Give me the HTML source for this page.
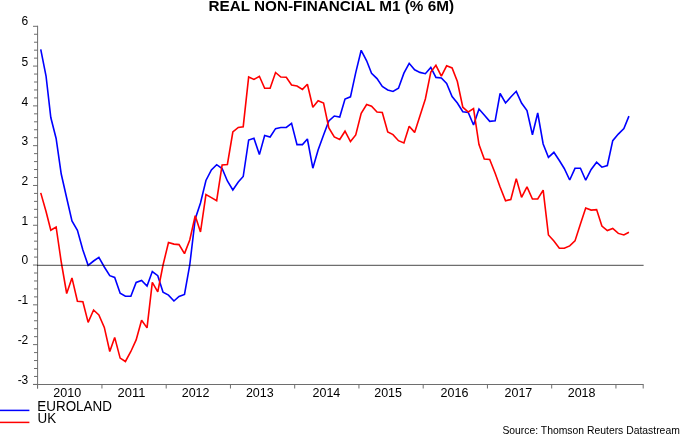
<!DOCTYPE html>
<html><head><meta charset="utf-8"><title>Real non-financial M1</title>
<style>html,body{margin:0;padding:0;background:#fff;}body{width:680px;height:434px;overflow:hidden;}svg{display:block;}</style>
</head><body>
<svg width="680" height="434" viewBox="0 0 680 434"><text x="208.5" y="10.9" textLength="245.5" lengthAdjust="spacingAndGlyphs" font-family="Liberation Sans, Arial, sans-serif" font-weight="bold" font-size="15.5" fill="#000">REAL NON-FINANCIAL M1 (% 6M)</text>
<path d="M33 26.3H38 M34 34.26H38 M34 42.22H38 M34 50.17H38 M34 58.13H38 M33 66.09H38 M34 74.05H38 M34 82.01H38 M34 89.96H38 M34 97.92H38 M33 105.88H38 M34 113.84H38 M34 121.8H38 M34 129.75H38 M34 137.71H38 M33 145.67H38 M34 153.63H38 M34 161.59H38 M34 169.54H38 M34 177.5H38 M33 185.46H38 M34 193.42H38 M34 201.38H38 M34 209.33H38 M34 217.29H38 M33 225.25H38 M34 233.21H38 M34 241.17H38 M34 249.12H38 M34 257.08H38 M33 265.04H38 M34 273.0H38 M34 280.96H38 M34 288.91H38 M34 296.87H38 M33 304.83H38 M34 312.79H38 M34 320.75H38 M34 328.7H38 M34 336.66H38 M33 344.62H38 M34 352.58H38 M34 360.54H38 M34 368.49H38 M34 376.45H38 M33 384.41H38" stroke="#6e6e6e" stroke-width="1" fill="none"/>
<text x="28.3" y="25.0" text-anchor="end" font-family="Liberation Sans, Arial, sans-serif" font-size="12" fill="#000">6</text>
<text x="28.3" y="66.2" text-anchor="end" font-family="Liberation Sans, Arial, sans-serif" font-size="12" fill="#000">5</text>
<text x="28.3" y="106.2" text-anchor="end" font-family="Liberation Sans, Arial, sans-serif" font-size="12" fill="#000">4</text>
<text x="28.3" y="145.3" text-anchor="end" font-family="Liberation Sans, Arial, sans-serif" font-size="12" fill="#000">3</text>
<text x="28.3" y="185.0" text-anchor="end" font-family="Liberation Sans, Arial, sans-serif" font-size="12" fill="#000">2</text>
<text x="28.3" y="225.0" text-anchor="end" font-family="Liberation Sans, Arial, sans-serif" font-size="12" fill="#000">1</text>
<text x="28.3" y="264.4" text-anchor="end" font-family="Liberation Sans, Arial, sans-serif" font-size="12" fill="#000">0</text>
<text x="28.3" y="304.3" text-anchor="end" font-family="Liberation Sans, Arial, sans-serif" font-size="12" fill="#000">-1</text>
<text x="28.3" y="343.9" text-anchor="end" font-family="Liberation Sans, Arial, sans-serif" font-size="12" fill="#000">-2</text>
<text x="28.3" y="383.7" text-anchor="end" font-family="Liberation Sans, Arial, sans-serif" font-size="12" fill="#000">-3</text>
<path d="M37.6 25.8V388.5" stroke="#6e6e6e" stroke-width="1" fill="none"/>
<path d="M33 384.5H643.6" stroke="#6e6e6e" stroke-width="1" fill="none"/>
<path d="M37.5 384.5V388.5 M101.95 384.5V388.5 M166.2 384.5V388.5 M230.45 384.5V388.5 M294.7 384.5V388.5 M358.95 384.5V388.5 M423.2 384.5V388.5 M487.45 384.5V388.5 M551.7 384.5V388.5 M615.95 384.5V388.5 M643.2 384.5V388.5" stroke="#6e6e6e" stroke-width="1" fill="none"/>
<text x="53.3" y="397" textLength="27.8" lengthAdjust="spacingAndGlyphs" font-family="Liberation Sans, Arial, sans-serif" font-size="12" fill="#000">2010</text>
<text x="117.6" y="397" textLength="27.8" lengthAdjust="spacingAndGlyphs" font-family="Liberation Sans, Arial, sans-serif" font-size="12" fill="#000">2011</text>
<text x="181.7" y="397" textLength="27.8" lengthAdjust="spacingAndGlyphs" font-family="Liberation Sans, Arial, sans-serif" font-size="12" fill="#000">2012</text>
<text x="245.9" y="397" textLength="27.8" lengthAdjust="spacingAndGlyphs" font-family="Liberation Sans, Arial, sans-serif" font-size="12" fill="#000">2013</text>
<text x="312.5" y="397" textLength="27.8" lengthAdjust="spacingAndGlyphs" font-family="Liberation Sans, Arial, sans-serif" font-size="12" fill="#000">2014</text>
<text x="374.2" y="397" textLength="27.8" lengthAdjust="spacingAndGlyphs" font-family="Liberation Sans, Arial, sans-serif" font-size="12" fill="#000">2015</text>
<text x="440.6" y="397" textLength="27.8" lengthAdjust="spacingAndGlyphs" font-family="Liberation Sans, Arial, sans-serif" font-size="12" fill="#000">2016</text>
<text x="504.5" y="397" textLength="27.8" lengthAdjust="spacingAndGlyphs" font-family="Liberation Sans, Arial, sans-serif" font-size="12" fill="#000">2017</text>
<text x="567.7" y="397" textLength="27.8" lengthAdjust="spacingAndGlyphs" font-family="Liberation Sans, Arial, sans-serif" font-size="12" fill="#000">2018</text>
<polyline points="40.74,49.3 46.04,76.0 50.81,117.5 56.12,138.5 61.24,174.0 66.69,198.0 71.96,221.0 77.42,230.3 82.87,250.0 88.14,265.3 93.59,261.0 98.87,257.4 104.32,267.0 109.77,275.7 114.69,277.4 120.14,293.2 125.41,296.2 130.86,296.2 136.14,282.4 141.59,280.4 147.04,286.0 152.31,271.5 157.77,275.7 163.04,292.3 168.49,295.1 173.94,301.0 179.04,296.5 184.49,294.5 189.76,265.0 195.21,219.0 200.49,203.0 205.94,180.5 211.39,170.0 216.66,164.7 222.12,168.5 227.39,181.0 232.84,190.0 238.29,182.0 243.21,176.5 248.66,140.0 253.94,138.3 259.39,154.6 264.66,135.5 270.11,137.0 275.56,128.6 280.84,127.5 286.29,127.5 291.56,123.3 297.01,144.6 302.46,144.6 307.39,139.0 312.84,168.2 318.11,150.0 323.56,135.0 328.84,121.0 334.29,116.0 339.74,117.0 345.01,99.0 350.46,96.8 355.74,72.6 361.19,50.3 366.64,60.8 371.56,73.2 377.01,78.6 382.29,86.5 387.74,89.9 393.01,91.5 398.46,88.2 403.91,73.2 409.19,63.3 414.64,69.8 419.91,72.4 425.36,73.7 430.81,67.4 435.91,77.4 441.36,77.9 446.64,83.5 452.09,96.5 457.36,103.0 462.81,111.7 468.26,112.5 473.54,125.0 478.99,109.0 484.26,115.0 489.71,121.3 495.16,120.8 500.09,93.5 505.54,103.0 510.81,97.0 516.26,91.3 521.54,103.0 526.99,110.5 532.44,134.8 537.71,113.0 543.16,144.0 548.44,157.3 553.89,152.3 559.34,160.5 564.26,168.5 569.71,180.0 574.99,168.3 580.44,168.3 585.71,180.2 591.16,169.5 596.61,162.2 601.89,167.2 607.34,165.5 612.74,140.7 618.31,134.1 623.89,128.6 628.94,116.1" fill="none" stroke="#0000ff" stroke-width="1.6" stroke-linejoin="miter" stroke-miterlimit="2"/>
<polyline points="40.74,192.9 46.04,211.5 50.81,230.3 56.12,227.0 61.24,262.0 66.69,293.5 71.96,277.9 77.42,301.2 82.87,301.8 88.14,322.4 93.59,310.0 98.87,314.9 104.32,327.4 109.77,351.5 114.69,337.4 120.14,358.1 125.41,361.5 130.86,351.5 136.14,339.9 141.59,320.2 147.04,327.9 152.31,282.3 157.77,291.8 163.04,265.0 168.49,242.5 173.94,244.1 179.04,244.6 184.49,253.6 189.76,240.0 195.21,215.7 200.49,232.0 205.94,194.6 211.39,197.6 216.66,200.7 222.12,165.0 227.39,164.5 232.84,132.0 238.29,127.5 243.21,126.7 248.66,77.0 253.94,79.4 259.39,76.3 264.66,88.2 270.11,88.2 275.56,72.5 280.84,77.0 286.29,77.3 291.56,85.0 297.01,86.0 302.46,89.4 307.39,84.3 312.84,107.3 318.11,100.7 323.56,103.1 328.84,128.0 334.29,137.0 339.74,139.5 345.01,131.2 350.46,141.5 355.74,135.0 361.19,113.3 366.64,104.5 371.56,106.3 377.01,112.0 382.29,112.5 387.74,132.0 393.01,134.6 398.46,140.7 403.91,142.9 409.19,126.3 414.64,132.4 419.91,116.0 425.36,99.0 430.81,72.0 435.91,65.3 441.36,76.2 446.64,65.8 452.09,67.9 457.36,81.5 462.81,107.2 468.26,112.0 473.54,108.6 478.99,144.5 484.26,159.0 489.71,159.5 495.16,173.3 500.09,187.0 505.54,200.7 510.81,199.5 516.26,178.6 521.54,197.3 526.99,186.9 532.44,199.0 537.71,199.0 543.16,190.2 548.44,235.0 553.89,241.0 559.34,248.3 564.26,248.3 569.71,245.9 574.99,240.9 580.44,224.0 585.71,208.1 591.16,210.1 596.61,209.6 601.89,226.0 607.34,230.6 612.74,228.4 618.31,233.4 623.89,235.0 628.94,232.2" fill="none" stroke="#ff0000" stroke-width="1.6" stroke-linejoin="miter" stroke-miterlimit="2"/>
<path d="M37 265.35H643.6" stroke="#6e6e6e" stroke-width="1.1" fill="none" style="mix-blend-mode:multiply"/>
<path d="M0 410.4H29.4" stroke="#0000ff" stroke-width="1.5"/>
<path d="M0 422.4H29.4" stroke="#ff0000" stroke-width="1.5"/>
<text x="37.3" y="410.8" textLength="74.6" lengthAdjust="spacingAndGlyphs" font-family="Liberation Sans, Arial, sans-serif" font-size="14" fill="#000">EUROLAND</text>
<text x="37.5" y="422.9" textLength="18.6" lengthAdjust="spacingAndGlyphs" font-family="Liberation Sans, Arial, sans-serif" font-size="14" fill="#000">UK</text>
<text x="502.4" y="434" textLength="177.4" lengthAdjust="spacingAndGlyphs" font-family="Liberation Sans, Arial, sans-serif" font-size="11.2" fill="#000">Source: Thomson Reuters Datastream</text></svg>
</body></html>
